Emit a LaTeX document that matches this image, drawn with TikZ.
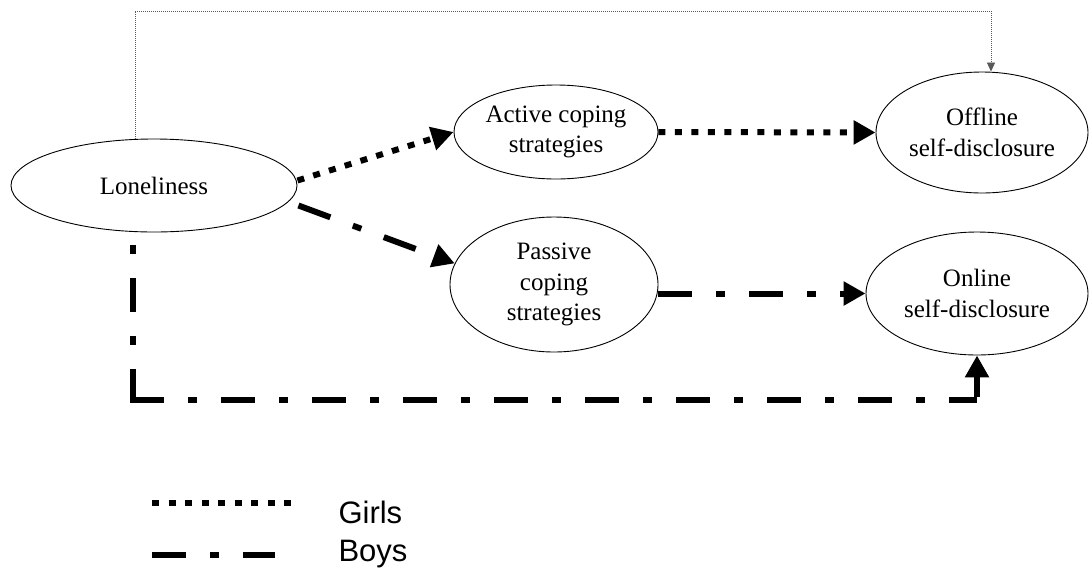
\documentclass[tikz,border=0pt]{standalone}
\usepackage{fontspec}
\setmainfont{Liberation Serif}
\newfontfamily\legendfont{Liberation Sans}
\usetikzlibrary{arrows.meta,shapes.geometric}
\tikzset{
  oval/.style={draw, ellipse, line width=0.9pt, inner sep=0pt, align=center,
    font=\fontsize{25}{30.5}\selectfont},
  girls/.style={line width=6pt, dash pattern=on 7pt off 9.5pt},
  boys/.style={line width=6pt, dash pattern=on 34pt off 24pt on 9pt off 24pt},
  boyssolid/.style={line width=6pt},
  bigtip/.style={-{Triangle[length=22pt,width=23pt]}},
  thinlink/.style={line width=0.8pt, black!65, dash pattern=on 1pt off 1pt,
    -{Triangle[length=9pt,width=8pt]}},
  legtext/.style={anchor=base west, font=\legendfont\fontsize{31}{36}\selectfont}
}
\begin{document}
\begin{tikzpicture}[x=1pt,y=-1pt]
\useasboundingbox[fill=white] (0,0) rectangle (1089,571);

\node[oval, minimum width=286pt, minimum height=93pt] (lon) at (154,185.5) {Loneliness};
\node[oval, minimum width=204pt, minimum height=94pt] (act) at (556,132) {Active coping\\strategies};
\node[oval, minimum width=208pt, minimum height=135pt] (pas) at (554,284.5) {Passive\\coping\\strategies};
\node[oval, minimum width=212pt, minimum height=121pt] (off) at (982,132.5) {Offline\\self-disclosure};
\node[oval, minimum width=222pt, minimum height=123pt] (onl) at (977,293.5) {Online\\self-disclosure};

% thin path on top
\coordinate (tl) at (135,11);
\coordinate (tr) at (991,11);
\draw[thinlink] (lon.north -| tl) -- (tl) -- (tr) -- (tr |- off.north);

% girls paths
\draw[girls, bigtip] ([yshift=5pt]lon.east) -- (act.west);
\draw[girls, bigtip] (act.east) -- (off.west);

% boys paths
\draw[boys, bigtip] ([yshift=-20pt,xshift=1pt]lon.east) -- (pas.168);
\draw[boys, bigtip] (pas.east |- onl.west) -- (onl.west);
\coordinate (bl) at (133,400);
\coordinate (br) at (onl.south |- bl);
\draw[boys, dash phase=45pt] (lon.south -| bl) -- (bl);
\draw[boys] ([xshift=-3pt]bl) -- (br);
\draw[boyssolid, bigtip] ([yshift=3pt]br) -- (onl.south);

% legend
\coordinate (g1) at (152,503);
\coordinate (g2) at (292,503);
\coordinate (b1) at (152,555);
\coordinate (b2) at (275,555);
\draw[girls] (g1) -- (g2);
\draw[boys] (b1) -- (b2);
\node[legtext] (gl) at (335,523) {Girls};
\node[legtext] (bl2) at (335,561) {Boys};
\end{tikzpicture}
\end{document}
